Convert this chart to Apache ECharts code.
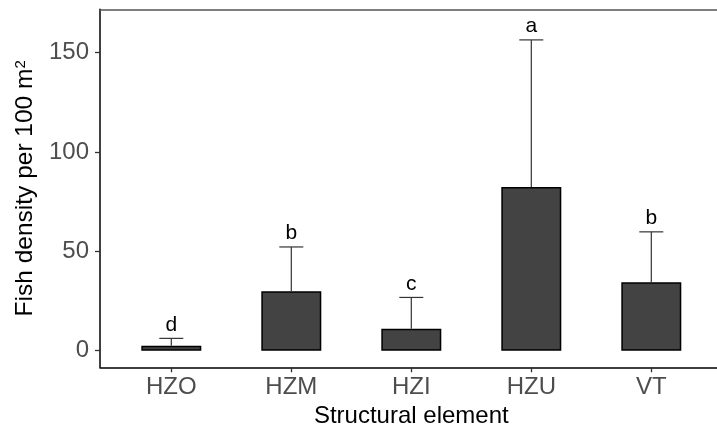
<!DOCTYPE html>
<html>
<head>
<meta charset="utf-8">
<script src="https://cdn.jsdelivr.net/npm/echarts@6/dist/echarts.min.js"></script>
<style>
html,body{margin:0;padding:0;background:#fff;}
#chart{width:717px;height:425px;}
</style>
</head>
<body>
<div id="chart"></div>
<script>
var categories = ['HZO', 'HZM', 'HZI', 'HZU', 'VT'];
var means = [2.5, 29.9, 11.1, 82.4, 34.4];
var uppers = [6.2, 52.2, 26.8, 156.4, 59.8];
var letters = ['d', 'b', 'c', 'a', 'b'];
var yTicks = [0, 50, 100, 150];

var FONT = "'Liberation Sans', Arial, Helvetica, sans-serif";
var errData = categories.map(function (c, i) { return [i, means[i], uppers[i]]; });

var chart = echarts.init(document.getElementById('chart'), null, {renderer: 'canvas'});
var option = {
  animation: false,
  backgroundColor: '#ffffff',
  grid: [
    {left: 111.3, right: 5.7, top: 9.3, bottom: 57.7, containLabel: false, outerBoundsMode: 'none'},
    {left: 100, right: 0, top: 9.3, bottom: 57.7, containLabel: false, outerBoundsMode: 'none'}
  ],
  xAxis: [
    {
      type: 'category', gridIndex: 0, data: categories,
      axisLine: {show: false, onZero: false},
      axisTick: {show: true, alignWithLabel: true, length: 5, lineStyle: {color: '#333', width: 1.3}},
      axisLabel: {color: '#4d4d4d', fontSize: 24, fontFamily: FONT, margin: 8},
      name: 'Structural element', nameLocation: 'middle', nameGap: 31,
      nameTextStyle: {color: '#000', fontSize: 24, fontFamily: FONT},
      splitLine: {show: false}
    },
    {
      type: 'value', gridIndex: 1, min: 0, max: 1, position: 'bottom',
      axisLine: {show: true, onZero: false, lineStyle: {color: '#000', width: 1.5}},
      axisTick: {show: false}, axisLabel: {show: false}, splitLine: {show: false}
    },
    {
      type: 'value', gridIndex: 1, min: 0, max: 1, position: 'top',
      axisLine: {show: true, onZero: false, lineStyle: {color: '#555', width: 1.5}},
      axisTick: {show: false}, axisLabel: {show: false}, splitLine: {show: false}
    }
  ],
  yAxis: [
    {
      type: 'value', gridIndex: 0, min: -8.36, max: 171.8, offset: 11.3,
      axisLine: {show: true, onZero: false, lineStyle: {color: '#000', width: 1.5}},
      axisTick: {show: true, length: 5, customValues: yTicks, lineStyle: {color: '#333', width: 1.3}},
      axisLabel: {customValues: yTicks, color: '#4d4d4d', fontSize: 24, fontFamily: FONT, margin: 11},
      splitLine: {show: false},
      name: 'Fish density per 100 m{sup|2}', nameLocation: 'middle', nameGap: 62, nameRotate: 90,
      nameTextStyle: {color: '#000', fontSize: 24.5, fontFamily: FONT,
        rich: {sup: {fontSize: 15, fontFamily: FONT, color: '#000', verticalAlign: 'top'}}}
    },
    {
      type: 'value', gridIndex: 1, min: 0, max: 1, show: false
    }
  ],
  series: [
    {
      type: 'bar', xAxisIndex: 0, yAxisIndex: 0, data: means, barWidth: '50%',
      itemStyle: {color: '#434343', borderColor: '#000', borderWidth: 1.5},
      silent: true
    },
    {
      type: 'custom', xAxisIndex: 0, yAxisIndex: 0, data: errData, silent: true, z: 3,
      renderItem: function (params, api) {
        var i = api.value(0);
        var top = api.coord([i, api.value(2)]);
        var base = api.coord([i, api.value(1)]);
        var half = api.size([1, 0])[0] * 0.1;
        var ls = {stroke: '#333', lineWidth: 1.2};
        return {
          type: 'group',
          children: [
            {type: 'line', shape: {x1: top[0], y1: base[1], x2: top[0], y2: top[1]}, style: ls},
            {type: 'line', shape: {x1: top[0] - half, y1: top[1], x2: top[0] + half, y2: top[1]}, style: ls},
            {type: 'text', x: top[0], y: top[1] - 3,
              style: {text: letters[i], fill: '#000', fontSize: 21, fontFamily: FONT,
                align: 'center', verticalAlign: 'bottom'}}
          ]
        };
      }
    }
  ]
};
chart.setOption(option);
</script>
</body>
</html>
